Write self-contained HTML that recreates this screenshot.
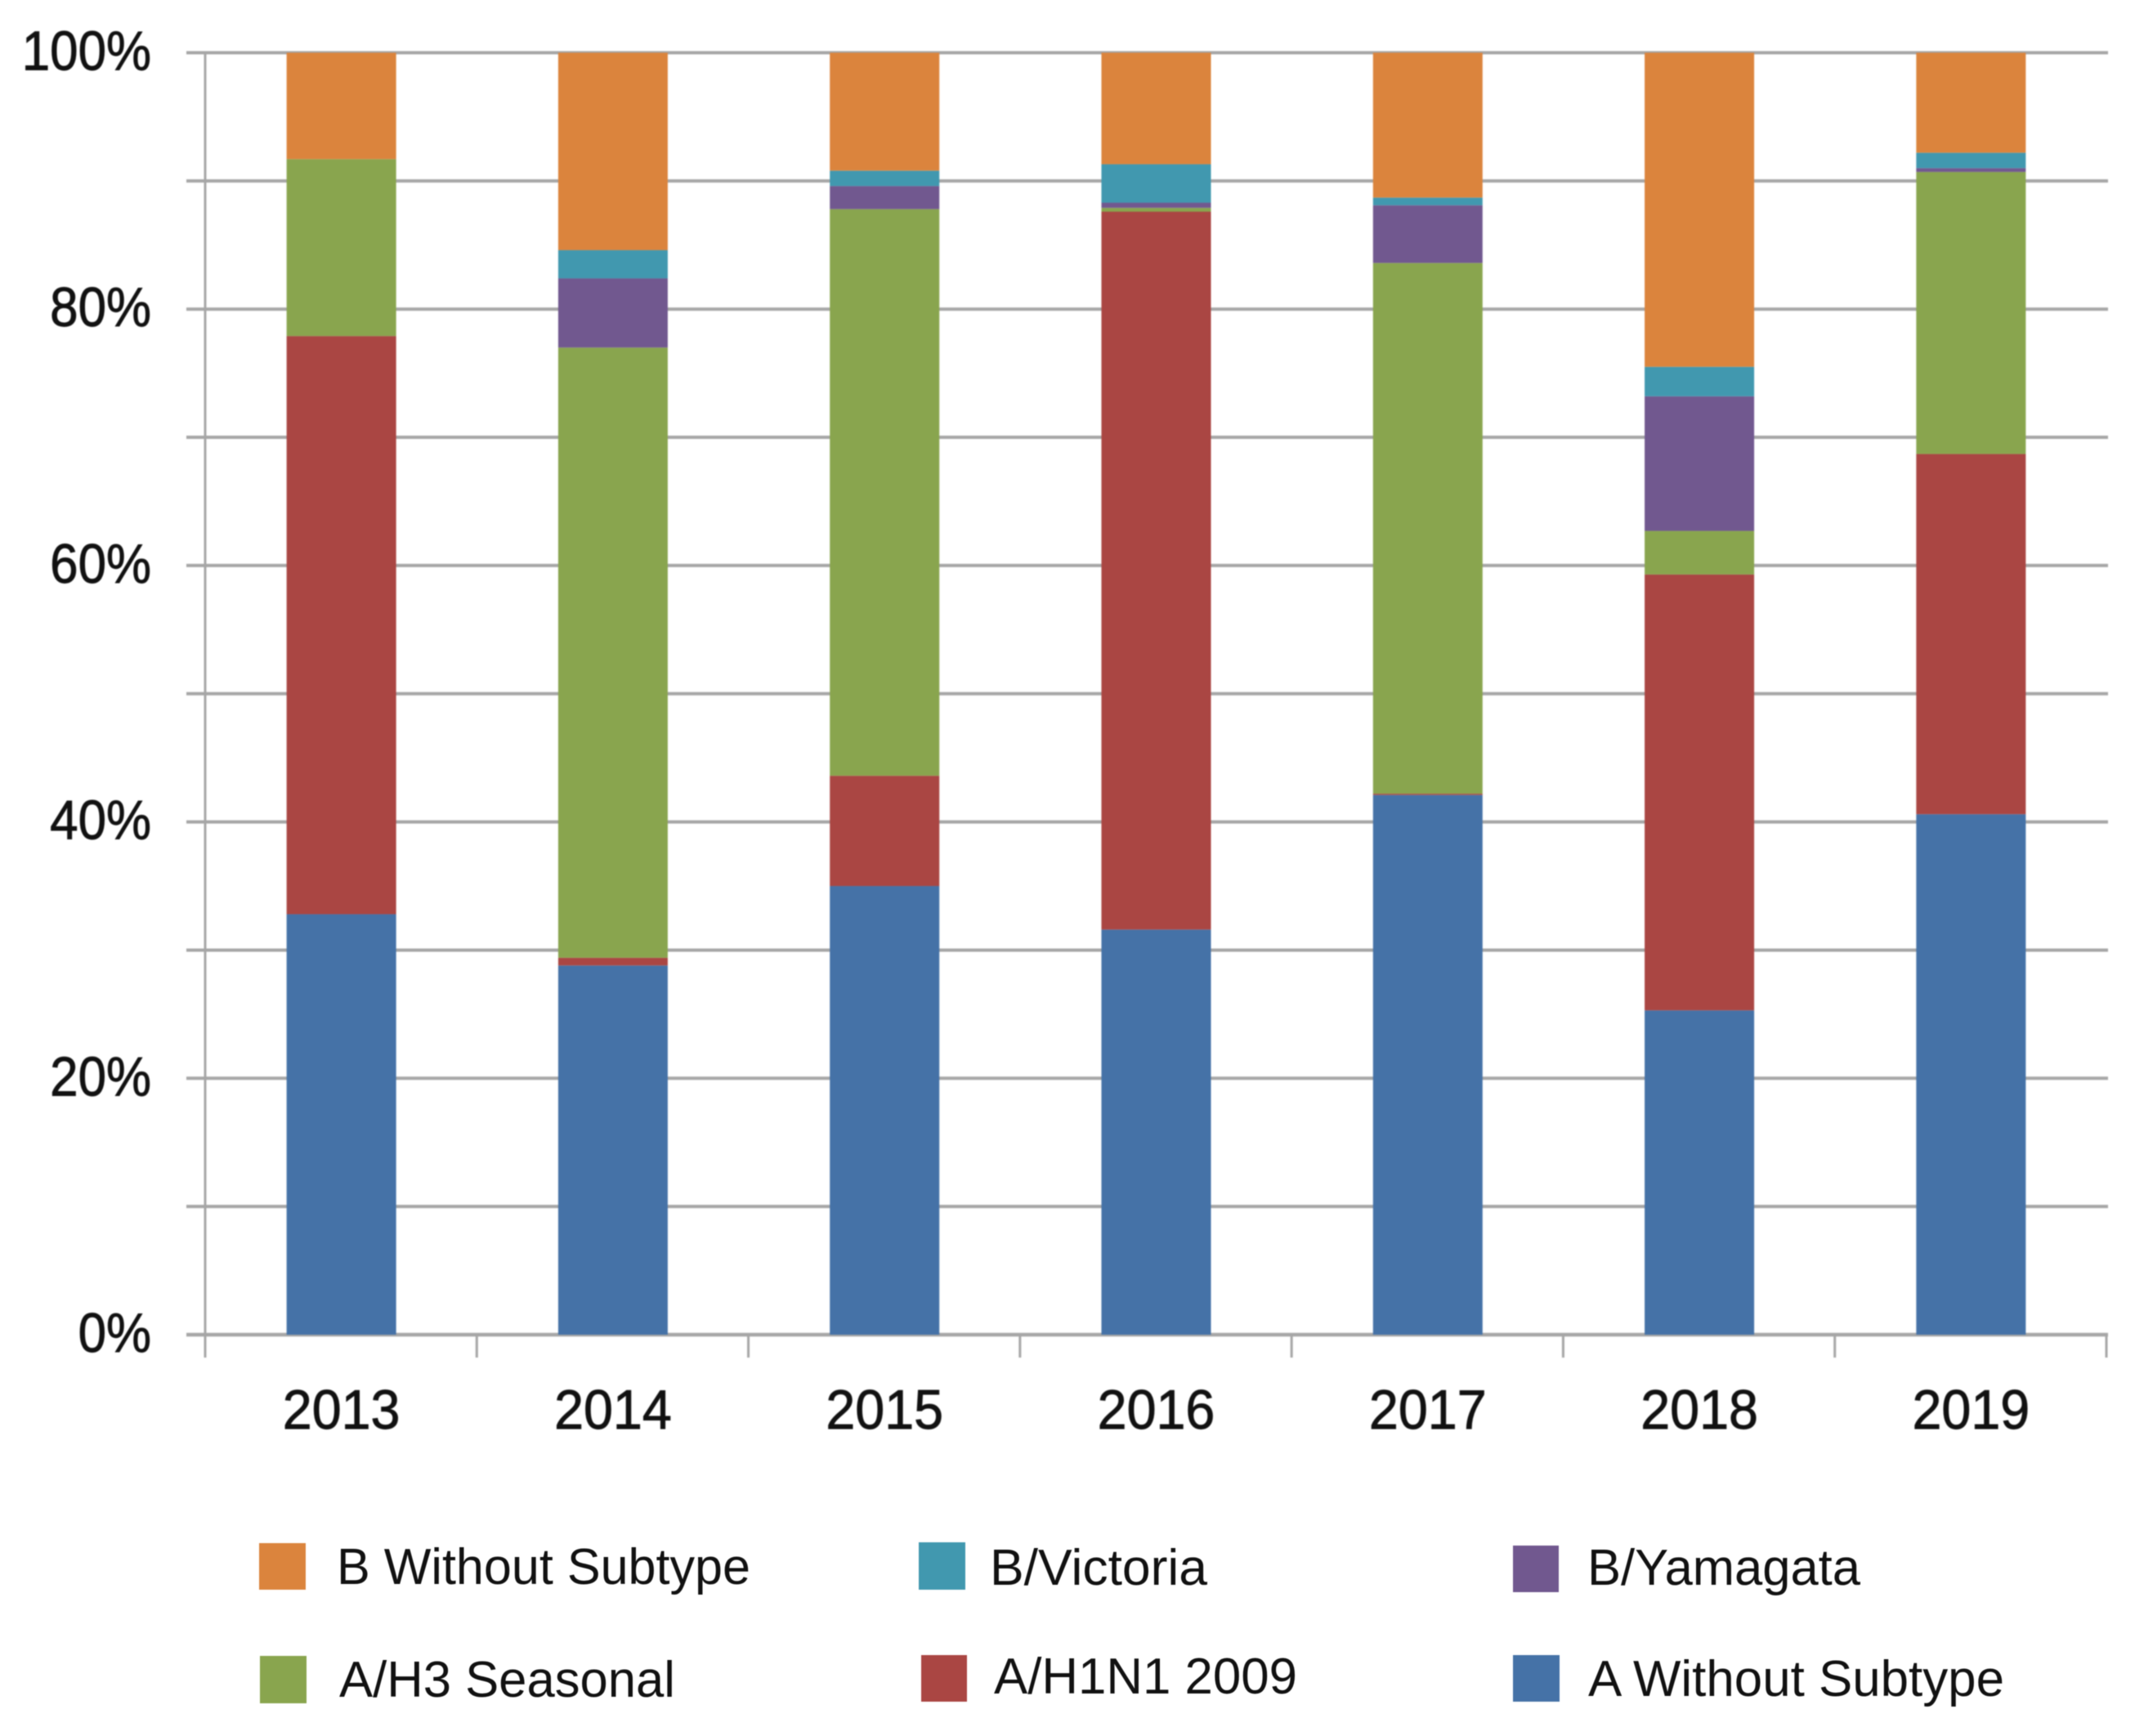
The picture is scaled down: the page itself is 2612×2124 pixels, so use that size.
<!DOCTYPE html>
<html lang="en">
<head>
<meta charset="utf-8">
<title>Influenza subtype share by year</title>
<style>
html,body{margin:0;padding:0;background:#fff;}
svg{display:block;}
text{font-family:"Liberation Sans",Arial,sans-serif;fill:#111;}
.tick-text{stroke:#111;stroke-width:0.9px;}
</style>
</head>
<body>
<svg id="chart" xmlns="http://www.w3.org/2000/svg" width="2612" height="2124" viewBox="0 0 2612 2124">
  <g id="plot" style="filter:blur(0.7px)"></g>
  <g id="legend" style="filter:blur(0.5px)">
    <g>
      <rect x="317" y="1888" width="57" height="57" fill="#DB843D"/>
      <text x="412" y="1938" font-size="62" textLength="506" lengthAdjust="spacingAndGlyphs">B Without Subtype</text>
    </g>
    <g>
      <rect x="1124" y="1887" width="57" height="58" fill="#4198AF"/>
      <text x="1211" y="1939" font-size="62" textLength="266" lengthAdjust="spacingAndGlyphs">B/Victoria</text>
    </g>
    <g>
      <rect x="1851" y="1891" width="56" height="57" fill="#71588F"/>
      <text x="1942" y="1939" font-size="62" textLength="334" lengthAdjust="spacingAndGlyphs">B/Yamagata</text>
    </g>
    <g>
      <rect x="318" y="2026" width="57" height="58" fill="#89A54E"/>
      <text x="415" y="2076" font-size="62" textLength="411" lengthAdjust="spacingAndGlyphs">A/H3 Seasonal</text>
    </g>
    <g>
      <rect x="1127" y="2025" width="56" height="57" fill="#AA4643"/>
      <text x="1216" y="2072" font-size="62" textLength="371" lengthAdjust="spacingAndGlyphs">A/H1N1 2009</text>
    </g>
    <g>
      <rect x="1851" y="2025" width="57" height="57" fill="#4572A7"/>
      <text x="1943" y="2075" font-size="62" textLength="509" lengthAdjust="spacingAndGlyphs">A Without Subtype</text>
    </g>
  </g>
</svg>
<script>
const years = ['2013', '2014', '2015', '2016', '2017', '2018', '2019'];
const aWithoutSubtype = [32.8, 28.8, 35.0, 31.6, 42.1, 25.3, 40.6];
const aH1N12009 = [45.1, 0.6, 8.6, 56.0, 0.1, 34.0, 28.1];
const aH3Seasonal = [13.8, 47.6, 44.2, 0.3, 41.4, 3.4, 22.0];
const bYamagata = [0, 5.4, 1.8, 0.4, 4.5, 10.5, 0.3];
const bVictoria = [0, 2.2, 1.2, 3.0, 0.6, 2.3, 1.2];
const bWithoutSubtype = [8.3, 15.4, 9.2, 8.7, 11.3, 24.5, 7.8];
const yTickLabels = ['0%', '20%', '40%', '60%', '80%', '100%'];
const yTickValues = [0, 20, 40, 60, 80, 100];
const yGridValues = [0, 10, 20, 30, 40, 50, 60, 70, 80, 90, 100];

const NS = 'http://www.w3.org/2000/svg';
const plot = document.getElementById('plot');
const axisLeft = 251, axisRight = 2577, axisBottom = 1633, axisTop = 64.5;
const bandWidth = (axisRight - axisLeft) / years.length;
const barWidth = 134;
const gridColor = '#a6a6a6';

function yScale(v) { return axisBottom - (v / 100) * (axisBottom - axisTop); }
function xBand(i) { return axisLeft + i * bandWidth; }
function make(tag, attrs, parent) {
  const el = document.createElementNS(NS, tag);
  for (const k in attrs) el.setAttribute(k, attrs[k]);
  parent.appendChild(el);
  return el;
}

yGridValues.forEach(function (v) {
  const line = make('line', { x1: 228, x2: axisRight + 2, y1: yScale(v), y2: yScale(v), stroke: gridColor, 'stroke-width': v === 0 ? 4.4 : 4 }, plot);
  
  
});

const yAxis = make('line', { x1: axisLeft, x2: axisLeft, y1: axisTop, y2: axisBottom, stroke: gridColor, 'stroke-width': 3 }, plot);



for (let i = 0; i <= years.length; i++) {
  const tick = make('line', { x1: xBand(i), x2: xBand(i), y1: axisBottom, y2: axisBottom + 28, stroke: gridColor, 'stroke-width': 3 }, plot);
  
  
}

const stackOrder = [
  { key: 'a-without-subtype', values: aWithoutSubtype, color: '#4572A7' },
  { key: 'a-h1n1-2009', values: aH1N12009, color: '#AA4643' },
  { key: 'a-h3-seasonal', values: aH3Seasonal, color: '#89A54E' },
  { key: 'b-yamagata', values: bYamagata, color: '#71588F' },
  { key: 'b-victoria', values: bVictoria, color: '#4198AF' },
  { key: 'b-without-subtype', values: bWithoutSubtype, color: '#DB843D' }
];

years.forEach(function (year, i) {
  let cumulative = 0;
  const x = xBand(i) + (bandWidth - barWidth) / 2 + 0.5;
  const total = stackOrder.reduce(function (sum, s) { return sum + s.values[i]; }, 0);
  stackOrder.forEach(function (s) {
    const share = s.values[i] / total * 100;
    const yTop = yScale(cumulative + share);
    const yBottom = yScale(cumulative);
    cumulative += share;
    if (share <= 0) return;
    const bar = make('rect', { x: x, y: yTop, width: barWidth, height: yBottom - yTop, fill: s.color }, plot);
    
    
  });
  const label = make('text', { class: 'tick-text', 'font-size': 68, transform: 'translate(' + (xBand(i) + bandWidth / 2 + 0.5) + ',1748) scale(0.95,1)', 'text-anchor': 'middle' }, plot);
  label.textContent = year;
  
  
});

yTickValues.forEach(function (v, i) {
  const label = make('text', { class: 'tick-text', 'font-size': 68, transform: 'translate(185,' + (yScale(v) + 21) + ') scale(0.91,1)', 'text-anchor': 'end' }, plot);
  label.textContent = yTickLabels[i];
  
  
});
</script>
</body>
</html>
